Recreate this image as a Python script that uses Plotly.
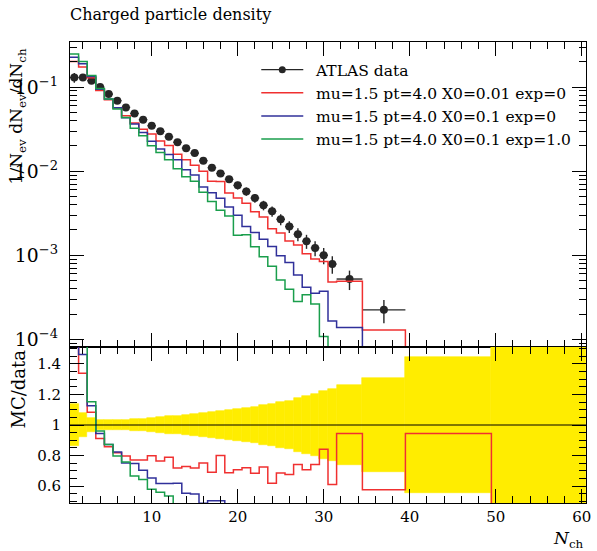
import numpy as np
import plotly.graph_objects as go

# ---------------- data ----------------
bin_edges = [0.5, 1.5, 2.5, 3.5, 4.5, 5.5, 6.5, 7.5, 8.5, 9.5, 10.5, 11.5, 12.5, 13.5,
             14.5, 15.5, 16.5, 17.5, 18.5, 19.5, 20.5, 21.5, 22.5, 23.5, 24.5, 25.5,
             26.5, 27.5, 28.5, 29.5, 30.5, 31.5, 34.5, 39.5, 49.5, 60.5]

atlas_vals = [0.130, 0.130, 0.119, 0.100, 0.0826, 0.0689, 0.0573, 0.0486, 0.0410, 0.0347,
              0.0298, 0.0256, 0.0221, 0.0188, 0.0164, 0.0133, 0.0110, 0.0094, 0.0080, 0.00678,
              0.00574, 0.00479, 0.00393, 0.00334, 0.00268, 0.00219, 0.00178, 0.00147, 0.00122,
              0.00100, 0.000785, 0.000521, 0.000224, 5.0e-5, 1.2e-5]

atlas_relerr = [0.135, 0.08, 0.045, 0.03, 0.03, 0.032, 0.035, 0.038, 0.042, 0.046,
                0.05, 0.056, 0.062, 0.068, 0.075, 0.08, 0.086, 0.092, 0.098, 0.105,
                0.112, 0.12, 0.13, 0.14, 0.15, 0.16, 0.175, 0.19, 0.205, 0.22,
                0.235, 0.26, 0.308, 0.445, 0.75]

mc_red = [0.201, 0.174, 0.129, 0.0911, 0.0709, 0.0564, 0.0457, 0.0375, 0.0316, 0.0277,
          0.0228, 0.0202, 0.0159, 0.0137, 0.0118, 0.0100, 0.00761, 0.00753, 0.00550, 0.00480,
          0.00414, 0.00328, 0.00285, 0.00207, 0.00184, 0.00148, 0.00132, 0.00104, 0.000904,
          0.000841, 0.000480, 0.000492, 0.000129, 4.72e-5, 0.0]

mc_blue = [0.226, 0.190, 0.134, 0.0944, 0.0721, 0.0567, 0.0431, 0.0364, 0.0289, 0.0227,
           0.0184, 0.0158, 0.0137, 0.0104, 0.0090, 0.0065, 0.00555, 0.00475, 0.00375, 0.00298,
           0.00219, 0.00186, 0.00155, 0.00127, 0.000984, 0.000822, 0.000581, 0.000415, 0.000353,
           0.000372, 0.000165, 0.000138, 0.0, 0.0, 0.0]

mc_green = [0.248, 0.2015, 0.137, 0.0961, 0.0721, 0.0549, 0.0434, 0.0324, 0.0264, 0.0201,
            0.0167, 0.0137, 0.0107, 0.0086, 0.0076, 0.00560, 0.00437, 0.00344, 0.00293, 0.00173,
            0.00175, 0.00126, 0.00096, 0.00074, 0.000507, 0.000393, 0.000282, 0.000338, 0.000263,
            0.000108, 0.0, 0.0, 0.0, 0.0, 0.0]

series_names = ["mu=1.5 pt=4.0 X0=0.01 exp=0",
                "mu=1.5 pt=4.0 X0=0.1 exp=0",
                "mu=1.5 pt=4.0 X0=0.1 exp=1.0"]
series_colors = ["#f03030", "#30309a", "#1a9e4c"]
data_name = "ATLAS data"

title_text = "Charged particle density"
ylabel_main = "1/N<sub>ev</sub> dN<sub>ev</sub>/dN<sub>ch</sub>"
ylabel_ratio = "MC/data"
xlabel = "<i>N</i><sub>ch</sub>"

FONT = "DejaVu Serif"
GAP = "\u2002"  # small gap between legend sample and label

# ---------------- derived ----------------
edges = np.array(bin_edges)
centers = 0.5 * (edges[:-1] + edges[1:])
halfw = 0.5 * (edges[1:] - edges[:-1])
data = np.array(atlas_vals)
rel = np.array(atlas_relerr)
err = data * rel

fig = go.Figure()

# ratio band
fig.add_trace(go.Bar(x=centers, y=2 * rel, base=1 - rel, width=2 * halfw,
                     marker=dict(color="#ffed00", line=dict(color="#ffed00", width=0.6)),
                     showlegend=False, xaxis="x2", yaxis="y2", hoverinfo="skip"))

# data points (main)
fig.add_trace(go.Scatter(x=centers, y=data, mode="markers",
                         marker=dict(color="#262626", size=8),
                         error_y=dict(type="data", array=err, color="#262626", thickness=1.4, width=0),
                         error_x=dict(type="data", array=halfw, color="#262626", thickness=1.4, width=0),
                         showlegend=False, xaxis="x", yaxis="y"))
# legend entry for data
fig.add_trace(go.Scatter(x=[None], y=[None], mode="lines+markers", name=GAP + data_name,
                         line=dict(color="#262626", width=1.4),
                         marker=dict(color="#262626", size=7),
                         xaxis="x", yaxis="y"))

for vals, name, col in zip([mc_red, mc_blue, mc_green], series_names, series_colors):
    v = np.array(vals)
    vplot = np.where(v > 0, v, 1e-9)
    ystep = np.append(vplot, vplot[-1])
    fig.add_trace(go.Scatter(x=edges, y=ystep, mode="lines", line_shape="hv",
                             line=dict(color=col, width=1.5), name=GAP + name,
                             xaxis="x", yaxis="y"))
    r = v / data
    rstep = np.append(r, r[-1])
    fig.add_trace(go.Scatter(x=edges, y=rstep, mode="lines", line_shape="hv",
                             line=dict(color=col, width=1.5), showlegend=False,
                             xaxis="x2", yaxis="y2"))

split = 156 / 461.0
axis_common = dict(showline=True, linecolor="black", linewidth=1, mirror="allticks",
                   ticks="inside", tickcolor="black", tickwidth=1, showgrid=False,
                   zeroline=False, tickfont=dict(family=FONT, size=15, color="black"))

fig.update_layout(
    width=597, height=551,
    margin=dict(l=70, r=6, t=42, b=48),
    paper_bgcolor="white", plot_bgcolor="white",
    font=dict(family=FONT, size=15, color="black"),
    bargap=0,
    xaxis=dict(domain=[0, 1], anchor="y", range=[0.5, 60.5], showticklabels=False,
               dtick=10, tick0=0, ticklen=14,
               minor=dict(ticks="inside", dtick=2, ticklen=7, tickcolor="black"),
               **axis_common),
    yaxis=dict(domain=[split, 1], anchor="x", type="log",
               range=[np.log10(8.1e-5), np.log10(0.344)],
               dtick=1, exponentformat="power", ticklen=14,
               ticklabelposition="outside", ticklabelstandoff=8,
               minor=dict(ticks="inside", dtick="D1", ticklen=7, tickcolor="black"),
               **axis_common),
    xaxis2=dict(domain=[0, 1], anchor="y2", range=[0.5, 60.5], dtick=10, tick0=0, ticklen=14,
                minor=dict(ticks="inside", dtick=2, ticklen=7, tickcolor="black"),
                **axis_common),
    yaxis2=dict(domain=[0, split], anchor="x2", range=[0.49, 1.51], dtick=0.2, tick0=0,
                ticklen=14, ticklabelposition="outside", ticklabelstandoff=5,
                minor=dict(ticks="inside", dtick=0.05, ticklen=7, tickcolor="black"),
                **axis_common),
    legend=dict(x=0.361, y=0.976, xanchor="left", yanchor="top",
                bgcolor="rgba(0,0,0,0)", borderwidth=0, itemwidth=42,
                font=dict(family=FONT, size=15.5, color="black")),
    shapes=[dict(type="line", xref="x2 domain", yref="y2", x0=0, x1=1, y0=1, y1=1,
                 line=dict(color="black", width=1))],
    annotations=[
        dict(text=title_text, xref="paper", yref="paper", x=-0.004, y=1.0586,
             xanchor="left", yanchor="middle", showarrow=False,
             font=dict(family=FONT, size=16, color="black")),
        dict(text=ylabel_main, xref="paper", yref="paper", x=-0.100, y=0.8395,
             xanchor="center", yanchor="middle", textangle=-90, showarrow=False,
             font=dict(family=FONT, size=17, color="black")),
        dict(text=ylabel_ratio, xref="paper", yref="paper", x=-0.100, y=0.247,
             xanchor="center", yanchor="middle", textangle=-90, showarrow=False,
             font=dict(family=FONT, size=18, color="black")),
        dict(text=xlabel, xref="paper", yref="paper", x=1.0, y=-0.08,
             xanchor="right", yanchor="middle", showarrow=False,
             font=dict(family=FONT, size=17, color="black")),
    ],
)

fig.write_html("out.html")
